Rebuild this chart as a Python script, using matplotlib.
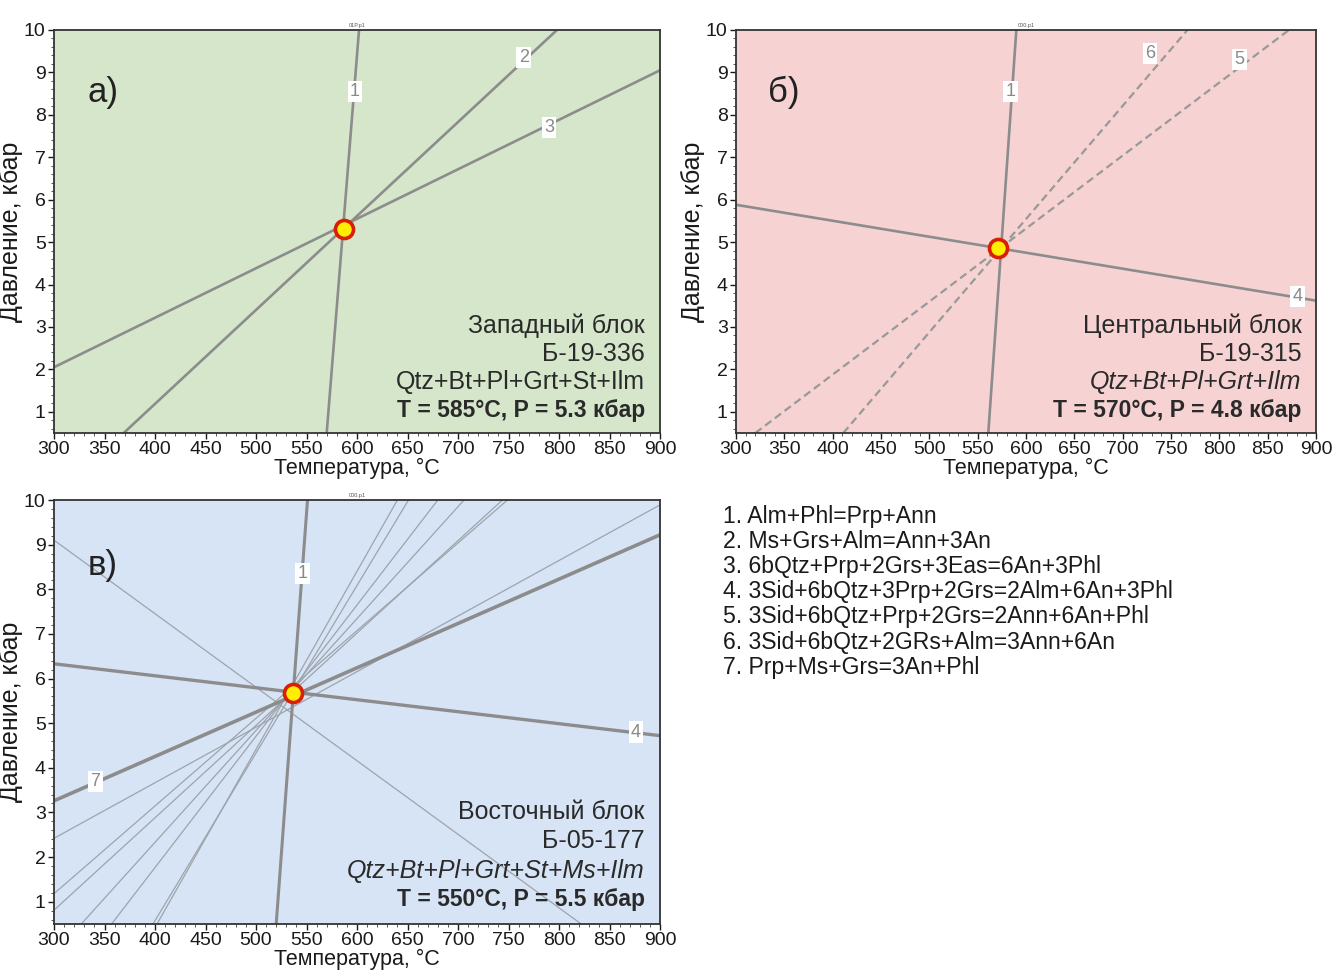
import matplotlib
matplotlib.use("Agg")
import matplotlib.pyplot as plt
from matplotlib.ticker import MultipleLocator

plt.rcParams['font.family'] = ['Liberation Sans', 'DejaVu Sans']

# ---- data ----
temp_ticks = [300, 350, 400, 450, 500, 550, 600, 650, 700, 750, 800, 850, 900]
pres_ticks = [1, 2, 3, 4, 5, 6, 7, 8, 9, 10]

# panel a) reaction lines: (T1, P1, T2, P2)
a_line1 = [570, 0.5, 602, 10]
a_line2 = [369, 0.5, 798, 10]
a_line3 = [300, 2.05, 900, 9.05]
a_point = [587, 5.3]
a_labels = {"1": (598, 8.55), "2": (765, 9.35), "3": (790, 7.7)}
a_text = ["Западный блок", "Б-19-336", "Qtz+Bt+Pl+Grt+St+Ilm", "T = 585°C, P = 5.3 кбар"]

# panel б)
b_line1 = [561, 0.5, 590, 10]
b_line4 = [300, 5.88, 900, 3.62]
b_line5 = [320, 0.5, 872, 10]
b_line6 = [411, 0.5, 767, 10]
b_point = [571, 4.85]
b_labels = {"1": (584, 8.55), "6": (728, 9.45), "5": (821, 9.3), "4": (881, 3.72)}
b_text = ["Центральный блок", "Б-19-315", "Qtz+Bt+Pl+Grt+Ilm", "T = 570°C, P = 4.8 кбар"]

# panel в)
c_line1 = [520, 0.5, 551, 10]
c_line4 = [300, 6.33, 900, 4.72]
c_line7 = [300, 3.26, 900, 9.22]
c_thin = [
    [402, 0.5, 640, 10],
    [398, 0.5, 651, 10],
    [357, 0.5, 680, 10],
    [327, 0.5, 706, 10],
    [300, 0.81, 744, 10],
    [300, 1.18, 749, 10],
    [300, 2.42, 900, 9.89],
    [300, 9.1, 822, 0.5],
]
c_point = [537, 5.67]
c_labels = {"1": (546, 8.35), "7": (341, 3.7), "4": (876, 4.8)}
c_text = ["Восточный блок", "Б-05-177", "Qtz+Bt+Pl+Grt+St+Ms+Ilm", "T = 550°C, P = 5.5 кбар"]

legend_lines = [
    "1. Alm+Phl=Prp+Ann",
    "2. Ms+Grs+Alm=Ann+3An",
    "3. 6bQtz+Prp+2Grs+3Eas=6An+3Phl",
    "4. 3Sid+6bQtz+3Prp+2Grs=2Alm+6An+3Phl",
    "5. 3Sid+6bQtz+Prp+2Grs=2Ann+6An+Phl",
    "6. 3Sid+6bQtz+2GRs+Alm=3Ann+6An",
    "7. Prp+Ms+Grs=3An+Phl",
]

W, H = 1336, 971
fig = plt.figure(figsize=(W / 100, H / 100), dpi=100)


def make_ax(x0, y0, x1, y1, bg, tag, letter):
    ax = fig.add_axes([x0 / W, 1 - y1 / H, (x1 - x0) / W, (y1 - y0) / H])
    ax.set_facecolor(bg)
    ax.set_xlim(300, 900)
    ax.set_ylim(0.5, 10)
    ax.set_xticks(temp_ticks)
    ax.set_yticks(pres_ticks)
    ax.xaxis.set_minor_locator(MultipleLocator(10))
    ax.yaxis.set_minor_locator(MultipleLocator(0.2))
    ax.tick_params(which='major', direction='out', length=4, width=1, labelsize=14, pad=2, colors='#1a1a1a')
    ax.tick_params(which='minor', direction='out', length=2, width=0.7, colors='#555555')
    for s in ax.spines.values():
        s.set_color('#333333')
        s.set_linewidth(1.3)
    ax.set_xlabel("Температура, °C", fontsize=15.5, labelpad=0, color='#1a1a1a')
    ax.set_ylabel("Давление, кбар", fontsize=18, labelpad=1, color='#1a1a1a')
    ax.text(0.5, 1.005, tag, transform=ax.transAxes, ha='center', va='bottom', fontsize=4, color='#555555')
    ax.text(0.055, 0.845, letter, transform=ax.transAxes, ha='left', va='center', fontsize=25, color='#222222')
    return ax


def seg(ax, l, **kw):
    ax.plot([l[0], l[2]], [l[1], l[3]], solid_capstyle='butt', **kw)


def labels(ax, d):
    for k, (x, y) in d.items():
        ax.text(x, y, k, ha='center', va='center', fontsize=13, color='#8a8a8a', zorder=6,
                bbox=dict(boxstyle='square,pad=0.12', fc='white', ec='none'))


def block_text(ax, lines, italic):
    ys = [0.265, 0.196, 0.126, 0.057]
    for i, (t, y) in enumerate(zip(lines, ys)):
        kw = dict(transform=ax.transAxes, ha='right', va='center', color='#2a2a2a', fontsize=18)
        if i == 3:
            kw['fontweight'] = 'bold'
            kw['fontsize'] = 16.5
        if i == 2 and italic:
            kw['fontstyle'] = 'italic'
        ax.text(0.975, y, t, **kw)


def point(ax, p):
    ax.plot(p[0], p[1], 'o', ms=13, mfc='#ffee00', mec='#d81e05', mew=2.6, zorder=8)


line_c = '#8c8c8c'

# a)
ax_a = make_ax(54, 30, 660, 433, '#d5e6ca', '01P.p1', 'а)')
for l in (a_line1, a_line2, a_line3):
    seg(ax_a, l, color=line_c, lw=1.9)
labels(ax_a, a_labels)
point(ax_a, a_point)
block_text(ax_a, a_text, False)

# б)
ax_b = make_ax(736, 30, 1316, 433, '#f6d2d3', '000.p1', 'б)')
seg(ax_b, b_line1, color=line_c, lw=1.9)
seg(ax_b, b_line4, color=line_c, lw=1.9)
seg(ax_b, b_line5, color='#999999', lw=1.6, ls=(0, (3.5, 2)))
seg(ax_b, b_line6, color='#999999', lw=1.6, ls=(0, (3.5, 2)))
labels(ax_b, b_labels)
point(ax_b, b_point)
block_text(ax_b, b_text, True)

# в)
ax_c = make_ax(54, 500, 660, 924, '#d6e4f5', '000.p1', 'в)')
for l in c_thin:
    seg(ax_c, l, color='#9ea4ab', lw=0.9)
seg(ax_c, c_line1, color=line_c, lw=2.2)
seg(ax_c, c_line4, color=line_c, lw=2.4)
seg(ax_c, c_line7, color=line_c, lw=2.6)
labels(ax_c, c_labels)
point(ax_c, c_point)
block_text(ax_c, c_text, True)

# legend of reactions
for i, t in enumerate(legend_lines):
    fig.text(723 / W, 1 - (516 + i * 25.2) / H, t, ha='left', va='center', fontsize=16.6, color='#1a1a1a')

fig.savefig("out.png", dpi=100, facecolor='white')
